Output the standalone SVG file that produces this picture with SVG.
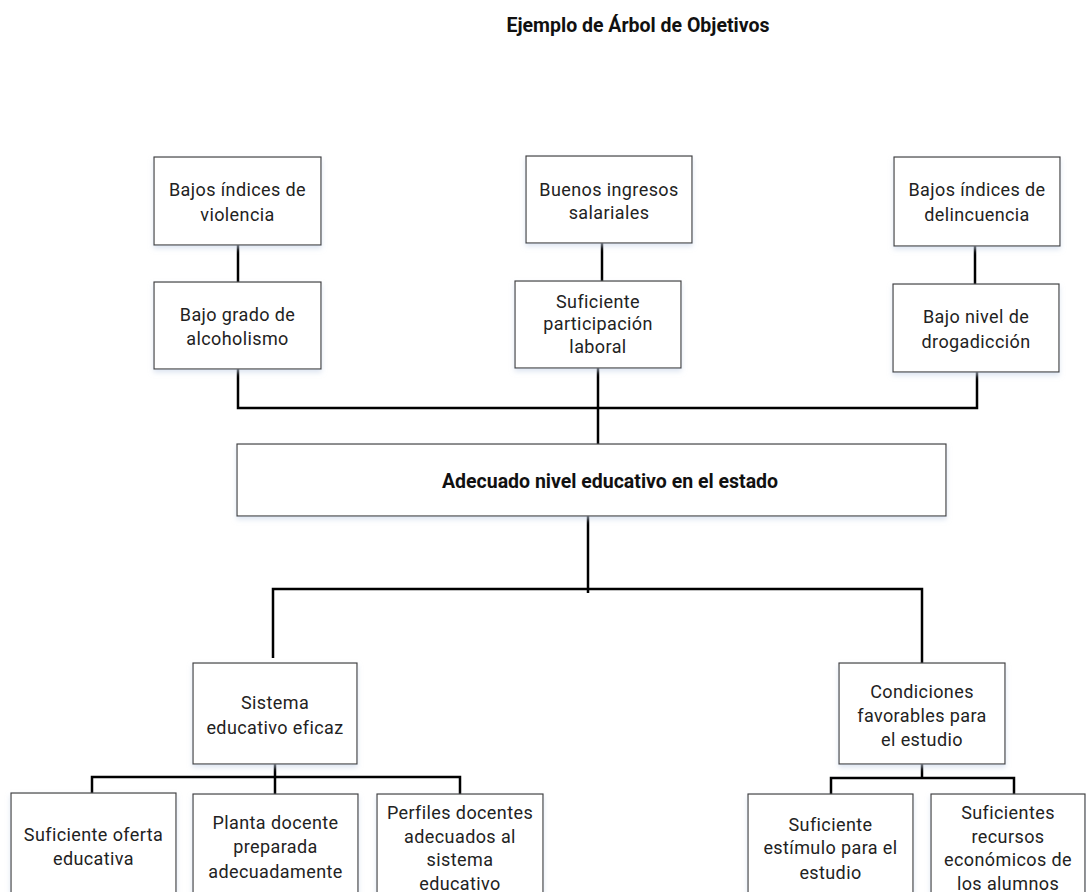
<svg xmlns="http://www.w3.org/2000/svg" width="1086" height="892" viewBox="0 0 1086 892">
<defs>
<filter id="sh" x="-10%" y="-10%" width="120%" height="130%">
<feDropShadow dx="0" dy="3" stdDeviation="2.5" flood-color="#c8d4e8" flood-opacity="0.6"/>
</filter>
<style>
.box{fill:#fff;stroke:#404040;stroke-width:1.2;filter:url(#sh)}
.t{font-family:"Roboto","Liberation Sans",sans-serif;font-size:18px;letter-spacing:0.4px;fill:#222;text-anchor:middle}
.b{font-family:"Roboto","Liberation Sans",sans-serif;font-weight:bold;font-size:19.5px;fill:#111;text-anchor:middle}
.c{fill:none;stroke:#000;stroke-width:2.5}
</style>
</defs>
<rect width="1086" height="892" fill="#fff"/>
<text class="b" x="638" y="32" font-size="18.5">Ejemplo de Árbol de Objetivos</text>

<g id="connectors">
<line class="c" x1="238" y1="245" x2="238" y2="282"/>
<line class="c" x1="602" y1="243" x2="602" y2="281"/>
<line class="c" x1="975" y1="246" x2="975" y2="284"/>
<path class="c" d="M238,369 V408 H977 V372"/>
<line class="c" x1="598" y1="368" x2="598" y2="408"/>
<line class="c" x1="598" y1="408" x2="598" y2="444" stroke-width="4"/>
<line class="c" x1="588" y1="516" x2="588" y2="593"/>
<path class="c" d="M273,658 V589 H922 V663"/>
<line class="c" x1="275" y1="764" x2="275" y2="797"/>
<path class="c" d="M92,793 V777 H460 V794"/>
<line class="c" x1="922" y1="764" x2="922" y2="778"/>
<path class="c" d="M831,794 V778 H1014 V794"/>
</g>

<g id="n1"><rect class="box" x="154" y="157" width="167" height="88"/>
<text class="t" x="237.5" y="196">Bajos índices de</text><text class="t" x="237.5" y="221">violencia</text></g>
<g id="n2"><rect class="box" x="154" y="282" width="167" height="87"/>
<text class="t" x="237.5" y="321">Bajo grado de</text><text class="t" x="237.5" y="345">alcoholismo</text></g>
<g id="n3"><rect class="box" x="526" y="156" width="166" height="87"/>
<text class="t" x="609" y="196">Buenos ingresos</text><text class="t" x="609" y="219">salariales</text></g>
<g id="n4"><rect class="box" x="515" y="281" width="166" height="87"/>
<text class="t" x="598" y="308">Suficiente</text><text class="t" x="598" y="330">participación</text><text class="t" x="598" y="353">laboral</text></g>
<g id="n5"><rect class="box" x="894" y="157" width="166" height="89"/>
<text class="t" x="977" y="196">Bajos índices de</text><text class="t" x="977" y="221">delincuencia</text></g>
<g id="n6"><rect class="box" x="893" y="284" width="166" height="88"/>
<text class="t" x="976" y="323">Bajo nivel de</text><text class="t" x="976" y="348">drogadicción</text></g>

<g id="center"><rect class="box" x="237" y="444" width="709" height="72"/>
<text class="b" x="610" y="488">Adecuado nivel educativo en el estado</text></g>

<g id="n7"><rect class="box" x="193" y="663" width="164" height="101"/>
<text class="t" x="275" y="709">Sistema</text><text class="t" x="275" y="734">educativo eficaz</text></g>
<g id="n8"><rect class="box" x="839" y="663" width="166" height="101"/>
<text class="t" x="922" y="698">Condiciones</text><text class="t" x="922" y="722">favorables para</text><text class="t" x="922" y="746">el estudio</text></g>

<g id="n9"><rect class="box" x="11" y="793" width="165" height="110"/>
<text class="t" x="93.5" y="841">Suficiente oferta</text><text class="t" x="93.5" y="865">educativa</text></g>
<g id="n10"><rect class="box" x="193" y="794" width="165" height="110"/>
<text class="t" x="275.5" y="829">Planta docente</text><text class="t" x="275.5" y="853">preparada</text><text class="t" x="275.5" y="878">adecuadamente</text></g>
<g id="n11"><rect class="box" x="377" y="794" width="166" height="110"/>
<text class="t" x="460" y="819">Perfiles docentes</text><text class="t" x="460" y="843">adecuados al</text><text class="t" x="460" y="866">sistema</text><text class="t" x="460" y="890">educativo</text></g>
<g id="n12"><rect class="box" x="748" y="794" width="165" height="110"/>
<text class="t" x="830.5" y="831">Suficiente</text><text class="t" x="830.5" y="854">estímulo para el</text><text class="t" x="830.5" y="879">estudio</text></g>
<g id="n13"><rect class="box" x="931" y="794" width="154" height="110"/>
<text class="t" x="1008" y="819">Suficientes</text><text class="t" x="1008" y="843">recursos</text><text class="t" x="1008" y="866">económicos de</text><text class="t" x="1008" y="890">los alumnos</text></g>
</svg>
